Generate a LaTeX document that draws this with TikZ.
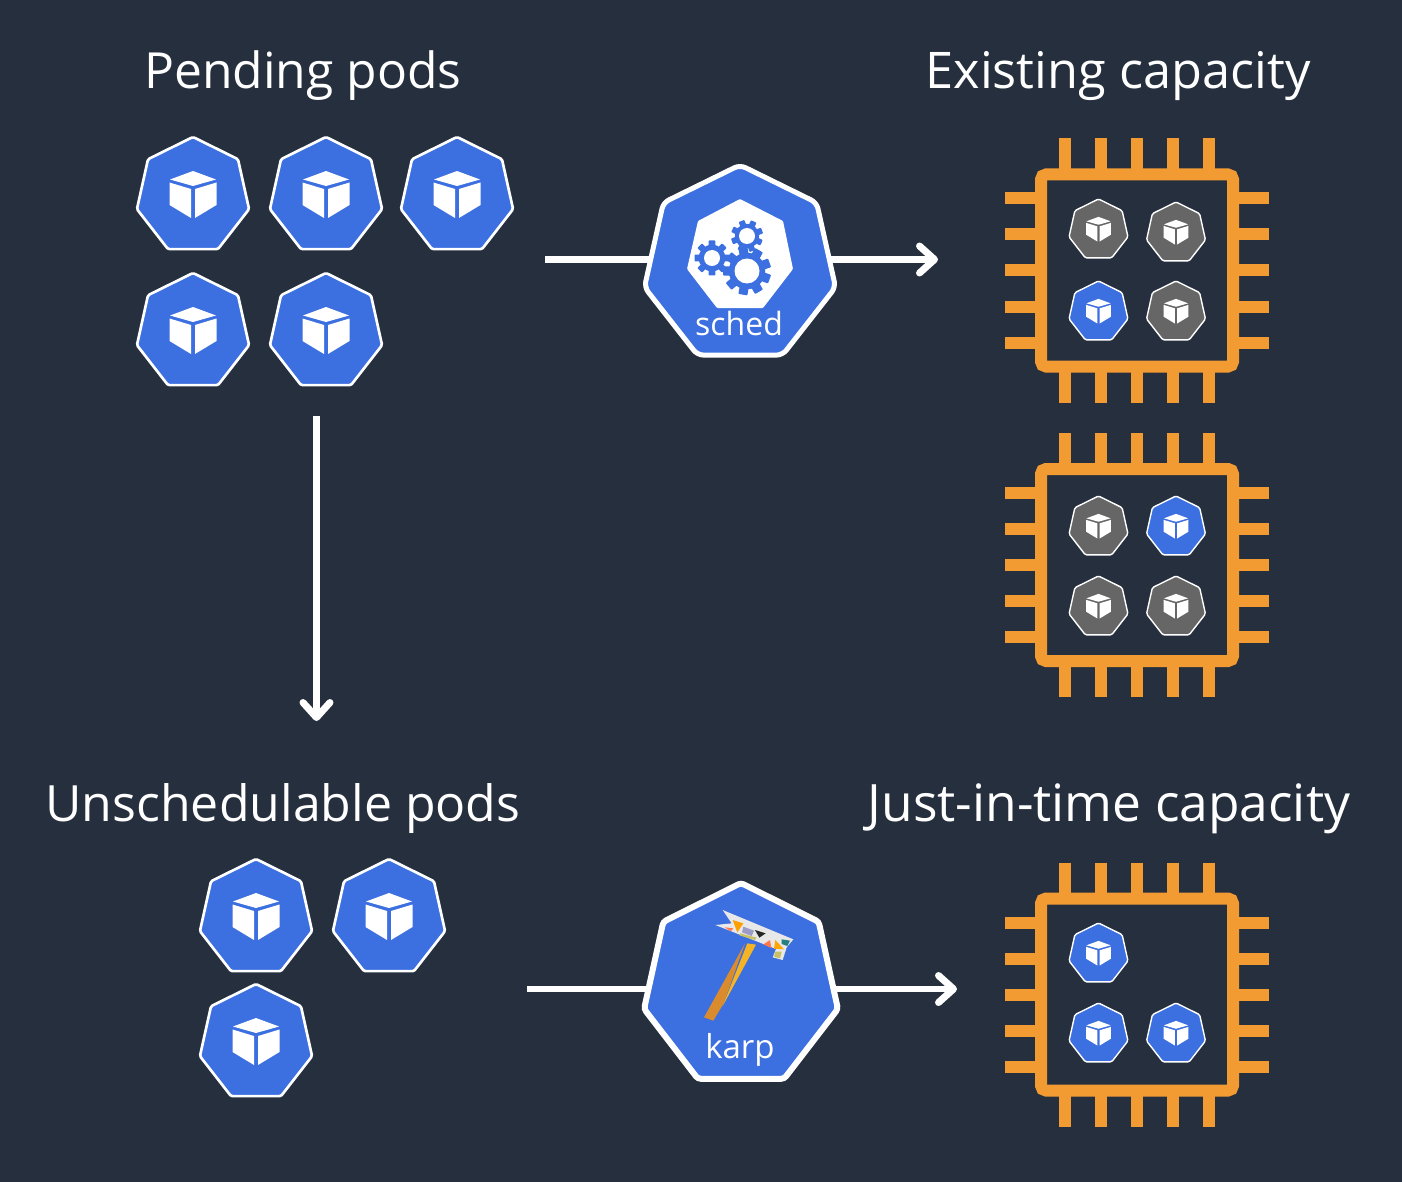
\documentclass[tikz,border=0pt]{standalone}
\usepackage{fontspec}
\setmainfont{Open Sans}
\usetikzlibrary{shapes.geometric,arrows.meta}
\definecolor{bgc}{HTML}{262F3D}
\definecolor{podblue}{HTML}{3C6FDF}
\definecolor{podgray}{HTML}{666666}
\definecolor{chiporange}{HTML}{F29B33}
\pgfdeclarelayer{conn}
\pgfsetlayers{conn,main}
\tikzset{
  x=1pt,y=-1pt,
  hept/.style={regular polygon,regular polygon sides=7,inner sep=0pt,outer sep=0pt,draw=white,rounded corners=1.5pt},
  flow/.style={draw=white,line width=6.5pt,-{Straight Barb[length=15pt,width=27pt,line width=7pt,round]}},
  plainflow/.style={draw=white,line width=6.5pt},
  title/.style={text=white,anchor=base,inner sep=0pt},
  pin/.style={draw=chiporange,line width=12pt},
}
% \podn{name}{x}{y}{radius}{colour}
\newcommand{\podn}[5]{%
  \node[hept,minimum size=#4*2pt,fill=#5,line width=#4*0.045pt,xscale=0.975,transform shape] (#1) at (#2,#3) {};
  \begin{scope}[shift={(#2,#3)},scale=#4/59]
    \fill[white] (0,-25) -- (23,-16.5) -- (0,-10) -- (-23,-16.5) -- cycle;
    \fill[white] (-23.5,-13.5) -- (-2,-7) -- (-2,22) -- (-23.5,9) -- cycle;
    \fill[white] (23.5,-13.5) -- (2,-7) -- (2,22) -- (23.5,9) -- cycle;
  \end{scope}}
% \chipn{name}{cy}
\newcommand{\chipn}[2]{%
  \begin{scope}[shift={(1137,#2)}]
    \foreach \d in {-72,-36,0,36,72}{
      \draw[pin] (\d,-132) -- (\d,-96);
      \draw[pin] (\d,132) -- (\d,96);
      \draw[pin] (-132,\d) -- (-96,\d);
      \draw[pin] (132,\d) -- (96,\d);
    }
    \node[draw=chiporange,line width=12pt,rounded corners=5pt,minimum size=192pt,inner sep=0pt,outer sep=0pt] (#1) at (0,0) {};
  \end{scope}}
% \gear{x}{y}{outer}{hole}{teeth}{phase}
\newcommand{\gear}[6]{%
  \begin{scope}[shift={(#1,#2)}]
    \fill[podblue] (0,0) circle[radius=#3*0.76];
    \foreach \a in {1,...,#5}{
      \fill[podblue,rotate=#6+\a*360/#5,rounded corners=0.8pt]
        (-#3*0.19,0) -- (-#3*0.19,-#3) -- (#3*0.19,-#3) -- (#3*0.19,0) -- cycle;
    }
    \fill[white] (0,0) circle[radius=#4];
  \end{scope}}
\begin{document}
\begin{tikzpicture}
\useasboundingbox (0,0) rectangle (1402,1182);
\begin{pgfonlayer}{conn}
\fill[bgc] (0,0) rectangle (1402,1182);
\end{pgfonlayer}

% titles
\node[title,font=\fontsize{49.8}{54}\selectfont] (t1) at (303,89) {Pending pods};
\node[title,font=\fontsize{50.5}{54}\selectfont] (t2) at (1118,89) {Existing capacity};
\node[title,font=\fontsize{50}{54}\selectfont] (t3) at (283,821.5) {Unschedulable pods};
\node[title,font=\fontsize{51.5}{54}\selectfont] (t4) at (1109,821.5) {Just-in-time capacity};

% pending pods
\podn{p1}{193}{196}{59}{podblue}
\podn{p2}{326}{196}{59}{podblue}
\podn{p3}{457}{196}{59}{podblue}
\podn{p4}{193}{332}{59}{podblue}
\podn{p5}{326}{332}{59}{podblue}

% unschedulable pods
\podn{u1}{256}{918}{59}{podblue}
\podn{u2}{389}{918}{59}{podblue}
\podn{u3}{256}{1043}{59}{podblue}

% chips
\chipn{c1}{270.5}
\chipn{c2}{565}
\chipn{c3}{994.5}

\podn{a1}{1098.5}{230}{31}{podgray}
\podn{a2}{1176}{233}{31}{podgray}
\podn{a3}{1098.5}{312}{31}{podblue}
\podn{a4}{1176}{312}{31}{podgray}
\podn{b1}{1098.5}{527}{31}{podgray}
\podn{b2}{1176}{527}{31}{podblue}
\podn{b3}{1098.5}{607}{31}{podgray}
\podn{b4}{1176}{607}{31}{podgray}
\podn{d1}{1098.5}{954}{31}{podblue}
\podn{d2}{1098.5}{1034}{31}{podblue}
\podn{d3}{1176}{1034}{31}{podblue}

% scheduler
\node[hept,minimum size=200pt,fill=podblue,line width=5pt,rounded corners=6pt,xscale=0.98,transform shape] (sched) at (740,265) {};
\fill[white,rounded corners=1pt] (740,199)
  -- (783,221) -- (793,269) -- (763,308) -- (717,308) -- (687,269) -- (698,221) -- cycle;
\gear{747}{271}{24}{12.5}{9}{10}
\gear{712}{258}{17.5}{8}{8}{0}
\gear{747}{236}{16}{8}{8}{20}
\node[text=white,font=\fontsize{32}{34}\selectfont,anchor=base,inner sep=0pt] (schedl) at (739,335) {sched};

% karpenter
\node[hept,minimum size=206pt,fill=podblue,line width=6pt,rounded corners=3pt,xscale=0.965,transform shape] (karp) at (741,986) {};
\begin{scope}[shift={(700,900)},scale=1/3]
  % handle
  \fill[chiporange!90!black] (12,352) -- (135,130) -- (71,310) -- (40,362) -- cycle;
  \fill[chiporange!75!yellow] (142,130) -- (168,134) -- (68,318) -- cycle;
  % head
  \fill[white!82!gray] (68,30) -- (280,118) -- (260,142) -- (248,180) -- (218,172) -- (228,147) -- (46,75) -- (95,70) -- cycle;
  \fill[orange!75!yellow] (98,60) -- (130,70) -- (112,97) -- cycle;
  \fill[red!50!orange!70!white] (74,82) -- (100,85) -- (92,94) -- cycle;
  \fill[blue!30!gray!60!white] (130,80) -- (162,92) -- (155,108) -- (126,97) -- cycle;
  \fill[black!85] (165,90) -- (197,100) -- (178,113) -- cycle;
  \fill[olive!50!white] (120,100) -- (170,113) -- (165,120) -- (118,106) -- cycle;
  \fill[red!50!orange!70!white] (210,120) -- (214,144) -- (190,133) -- cycle;
  \fill[orange!70!yellow] (226,120) -- (252,148) -- (222,146) -- cycle;
  \fill[teal!70!gray] (245,118) -- (270,122) -- (262,138) -- (245,132) -- cycle;
  \fill[olive!50!white] (226,155) -- (245,155) -- (240,175) -- (222,170) -- cycle;
\end{scope}
\node[text=white,font=\fontsize{33}{35}\selectfont,anchor=base,inner sep=0pt] (karpl) at (740,1058) {karp};

% connectors
\coordinate (s1) at (545,259.5);
\coordinate (e1) at (938,259.5);
\coordinate (s2) at (527,989);
\coordinate (e2) at (957,989);
\coordinate (s3) at (316.5,416);
\coordinate (e3) at (316.5,721);
\begin{pgfonlayer}{conn}
\draw[plainflow] (s1) -- (s1 -| sched.center);
\draw[plainflow] (s2) -- (s2 -| karp.center);
\end{pgfonlayer}
\path (e1 -| sched.center) coordinate (m1);
\path (e2 -| karp.center) coordinate (m2);
\begin{pgfonlayer}{conn}
\draw[flow] (m1) -- (e1);
\draw[flow] (m2) -- (e2);
\draw[flow] (s3) -- (e3);
\end{pgfonlayer}
\end{tikzpicture}
\end{document}
